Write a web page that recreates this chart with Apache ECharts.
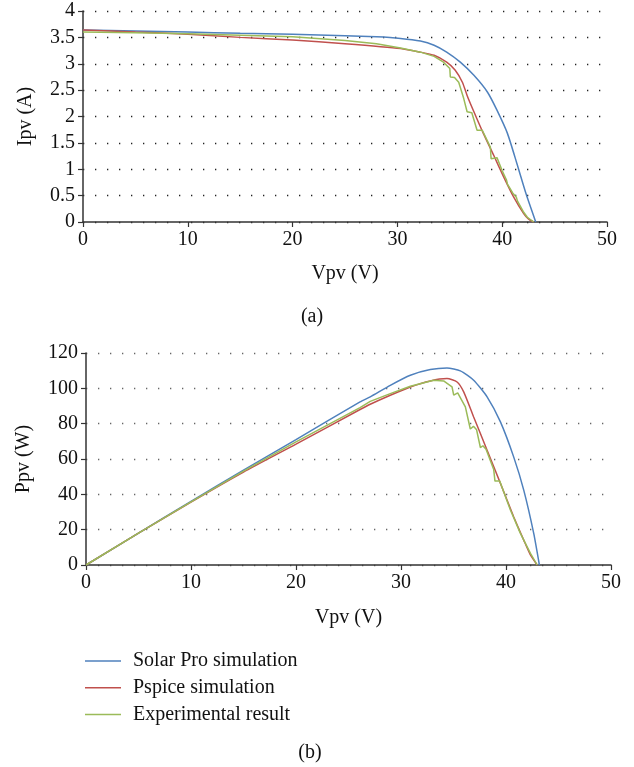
<!DOCTYPE html>
<html>
<head>
<meta charset="utf-8">
<script src="https://cdn.jsdelivr.net/npm/echarts@6/dist/echarts.min.js"></script>
<style>
html,body{margin:0;padding:0;background:#fff;}
#chart{width:634px;height:767px;}
</style>
</head>
<body>
<div id="chart"></div>
<script>
// ---- Data ----
const seriesNames = ['Solar Pro simulation', 'Pspice simulation', 'Experimental result'];
const seriesColors = ['#4F81BD', '#C0504D', '#9BBB59'];

// (a) I-V curves
const ivSolarProV = [0, 5, 10, 15, 20, 25, 28, 30.3, 32.2, 33.5, 34.7, 36.0, 37.3, 38.6, 39.5, 40.5, 41.4, 42.3, 43.2];
const ivSolarProI = [3.64, 3.62, 3.60, 3.58, 3.56, 3.53, 3.51, 3.48, 3.43, 3.35, 3.22, 3.03, 2.78, 2.46, 2.12, 1.68, 1.11, 0.52, 0];

const ivPspiceV = [0, 5, 10, 15, 20, 25, 30.3, 32.2, 33.5, 34.7, 35.5, 36.2, 36.65, 37.3, 38.2, 39.2, 40.15, 41.1, 42.05, 42.5, 43.0];
const ivPspiceI = [3.64, 3.60, 3.56, 3.50, 3.45, 3.38, 3.29, 3.22, 3.16, 3.03, 2.88, 2.65, 2.40, 2.09, 1.68, 1.26, 0.85, 0.47, 0.16, 0.06, 0];

const ivExpV = [0, 5, 10, 15, 20, 25, 28, 30.3, 32.2, 33.5, 34.4, 35.0, 35.05, 35.45, 35.85, 36.33, 36.65, 37.1, 37.6, 38.1, 38.87, 38.94, 39.5, 40.0, 40.4, 40.5, 41.0, 41.35, 41.45, 42.0, 42.4, 43.0];
const ivExpI = [3.60, 3.59, 3.57, 3.54, 3.51, 3.44, 3.38, 3.30, 3.22, 3.14, 3.03, 2.91, 2.75, 2.74, 2.65, 2.34, 2.09, 2.07, 1.74, 1.74, 1.42, 1.20, 1.22, 0.97, 0.80, 0.72, 0.55, 0.47, 0.40, 0.20, 0.09, 0];

// (b) P-V curves
const pvSolarProV = [0, 5, 10, 15, 20, 26.1, 27.07, 28.98, 30.89, 32.79, 34.38, 35.65, 36.92, 38.2, 39.47, 40.73, 41.69, 42.64, 43.18];
const pvSolarProP = [0, 18.1, 36.0, 53.7, 71.0, 92.3, 95.2, 101.7, 107.4, 110.6, 111.5, 109.9, 104.6, 95.2, 81.0, 61.2, 42.4, 17.9, 0];

const pvPspiceV = [0, 5, 10, 15, 20, 26.1, 27.07, 28.98, 30.89, 32.79, 34.38, 35.34, 35.97, 36.92, 38.2, 39.47, 40.73, 41.69, 42.3, 42.97];
const pvPspiceP = [0, 18.0, 35.6, 52.6, 68.4, 88.0, 91.0, 96.1, 100.8, 104.2, 105.5, 103.6, 98.0, 83.8, 65.0, 46.2, 27.3, 14.1, 6.0, 0];

const pvExpV = [0, 5, 10, 15, 20, 26.1, 27.07, 28.98, 30.89, 33.11, 34.06, 34.86, 35.02, 35.4, 36.13, 36.6, 36.9, 37.2, 37.56, 37.8, 38.1, 38.83, 38.95, 39.4, 40.42, 41.37, 42.33, 42.97];
const pvExpP = [0, 18.0, 35.7, 53.1, 69.7, 89.1, 92.6, 97.0, 101.2, 104.6, 104.2, 100.8, 96.1, 97.4, 89.5, 77.0, 78.5, 76.5, 66.5, 67.5, 65.5, 54.0, 47.5, 47.5, 31.1, 17.9, 6.6, 0];

const xTicks = [0, 10, 20, 30, 40, 50];

// ---- Chart ----
const FONT = "'Liberation Serif','DejaVu Serif',serif";
const zip = (a, b) => a.map((v, i) => [v, b[i]]);

function mkX(gridIndex) {
  return {
    type: 'value', gridIndex, min: xTicks[0], max: xTicks[xTicks.length - 1], interval: 10,
    name: 'Vpv (V)', nameLocation: 'middle', nameGap: gridIndex === 0 ? 42 : 43,
    nameTextStyle: { fontFamily: FONT, fontSize: 20, color: '#111' },
    axisLine: { show: true, onZero: false, lineStyle: { color: '#333', width: 1.5 } },
    axisTick: { show: true, inside: false, length: 5, lineStyle: { color: '#333', width: 1.2 } },
    axisLabel: { fontFamily: FONT, fontSize: 20, color: '#111', margin: 8 },
    splitLine: { show: false }
  };
}
function mkY(gridIndex, max, interval, name, gap, dotColor) {
  return {
    type: 'value', gridIndex, min: 0, max, interval,
    name, nameLocation: 'middle', nameGap: gap, nameRotate: 90,
    nameTextStyle: { fontFamily: FONT, fontSize: 20, color: '#111' },
    axisLine: { show: true, lineStyle: { color: '#333', width: 1.5 } },
    axisTick: { show: true, inside: false, length: 5, lineStyle: { color: '#333', width: 1.2 } },
    axisLabel: { fontFamily: FONT, fontSize: 20, color: '#111', margin: 8 },
    splitLine: { show: true, lineStyle: { color: dotColor, width: 1.3, type: [1.3, 10.7] } }
  };
}
function mkSeries(name, color, data, xi) {
  return {
    name, type: 'line', xAxisIndex: xi, yAxisIndex: xi, data,
    symbol: 'none', smooth: 0.2, lineStyle: { color, width: 1.5 }, itemStyle: { color },
    z: 3
  };
}

const chart = echarts.init(document.getElementById('chart'), null, { renderer: 'canvas' });
chart.setOption({
  animation: false,
  backgroundColor: '#fff',
  grid: [
    { left: 83, top: 11, width: 524, height: 211 },
    { left: 86, top: 353, width: 525, height: 212 }
  ],
  xAxis: [mkX(0), mkX(1)],
  yAxis: [
    mkY(0, 4, 0.5, 'Ipv (A)', 47, '#222'),
    mkY(1, 120, 20, 'Ppv (W)', 52, '#666')
  ],
  legend: {
    orient: 'vertical', left: 85, top: 651, padding: 0, itemWidth: 36, itemHeight: 1.5, itemGap: 6.7,
    icon: 'rect', data: seriesNames,
    textStyle: { fontFamily: FONT, fontSize: 20, color: '#111', lineHeight: 20, padding: [0, 0, 0, 7] }
  },
  graphic: [
    { type: 'text', x: 312, y: 317, style: { text: '(a)', font: "20px 'Liberation Serif'", fill: '#111', textAlign: 'center', textVerticalAlign: 'middle' } },
    { type: 'text', x: 310, y: 753, style: { text: '(b)', font: "20px 'Liberation Serif'", fill: '#111', textAlign: 'center', textVerticalAlign: 'middle' } }
  ],
  series: [
    mkSeries(seriesNames[0], seriesColors[0], zip(ivSolarProV, ivSolarProI), 0),
    mkSeries(seriesNames[1], seriesColors[1], zip(ivPspiceV, ivPspiceI), 0),
    Object.assign(mkSeries(seriesNames[2], seriesColors[2], zip(ivExpV, ivExpI), 0), { smooth: false }),
    mkSeries(seriesNames[0], seriesColors[0], zip(pvSolarProV, pvSolarProP), 1),
    mkSeries(seriesNames[1], seriesColors[1], zip(pvPspiceV, pvPspiceP), 1),
    Object.assign(mkSeries(seriesNames[2], seriesColors[2], zip(pvExpV, pvExpP), 1), { smooth: false })
  ]
});
</script>
</body>
</html>
